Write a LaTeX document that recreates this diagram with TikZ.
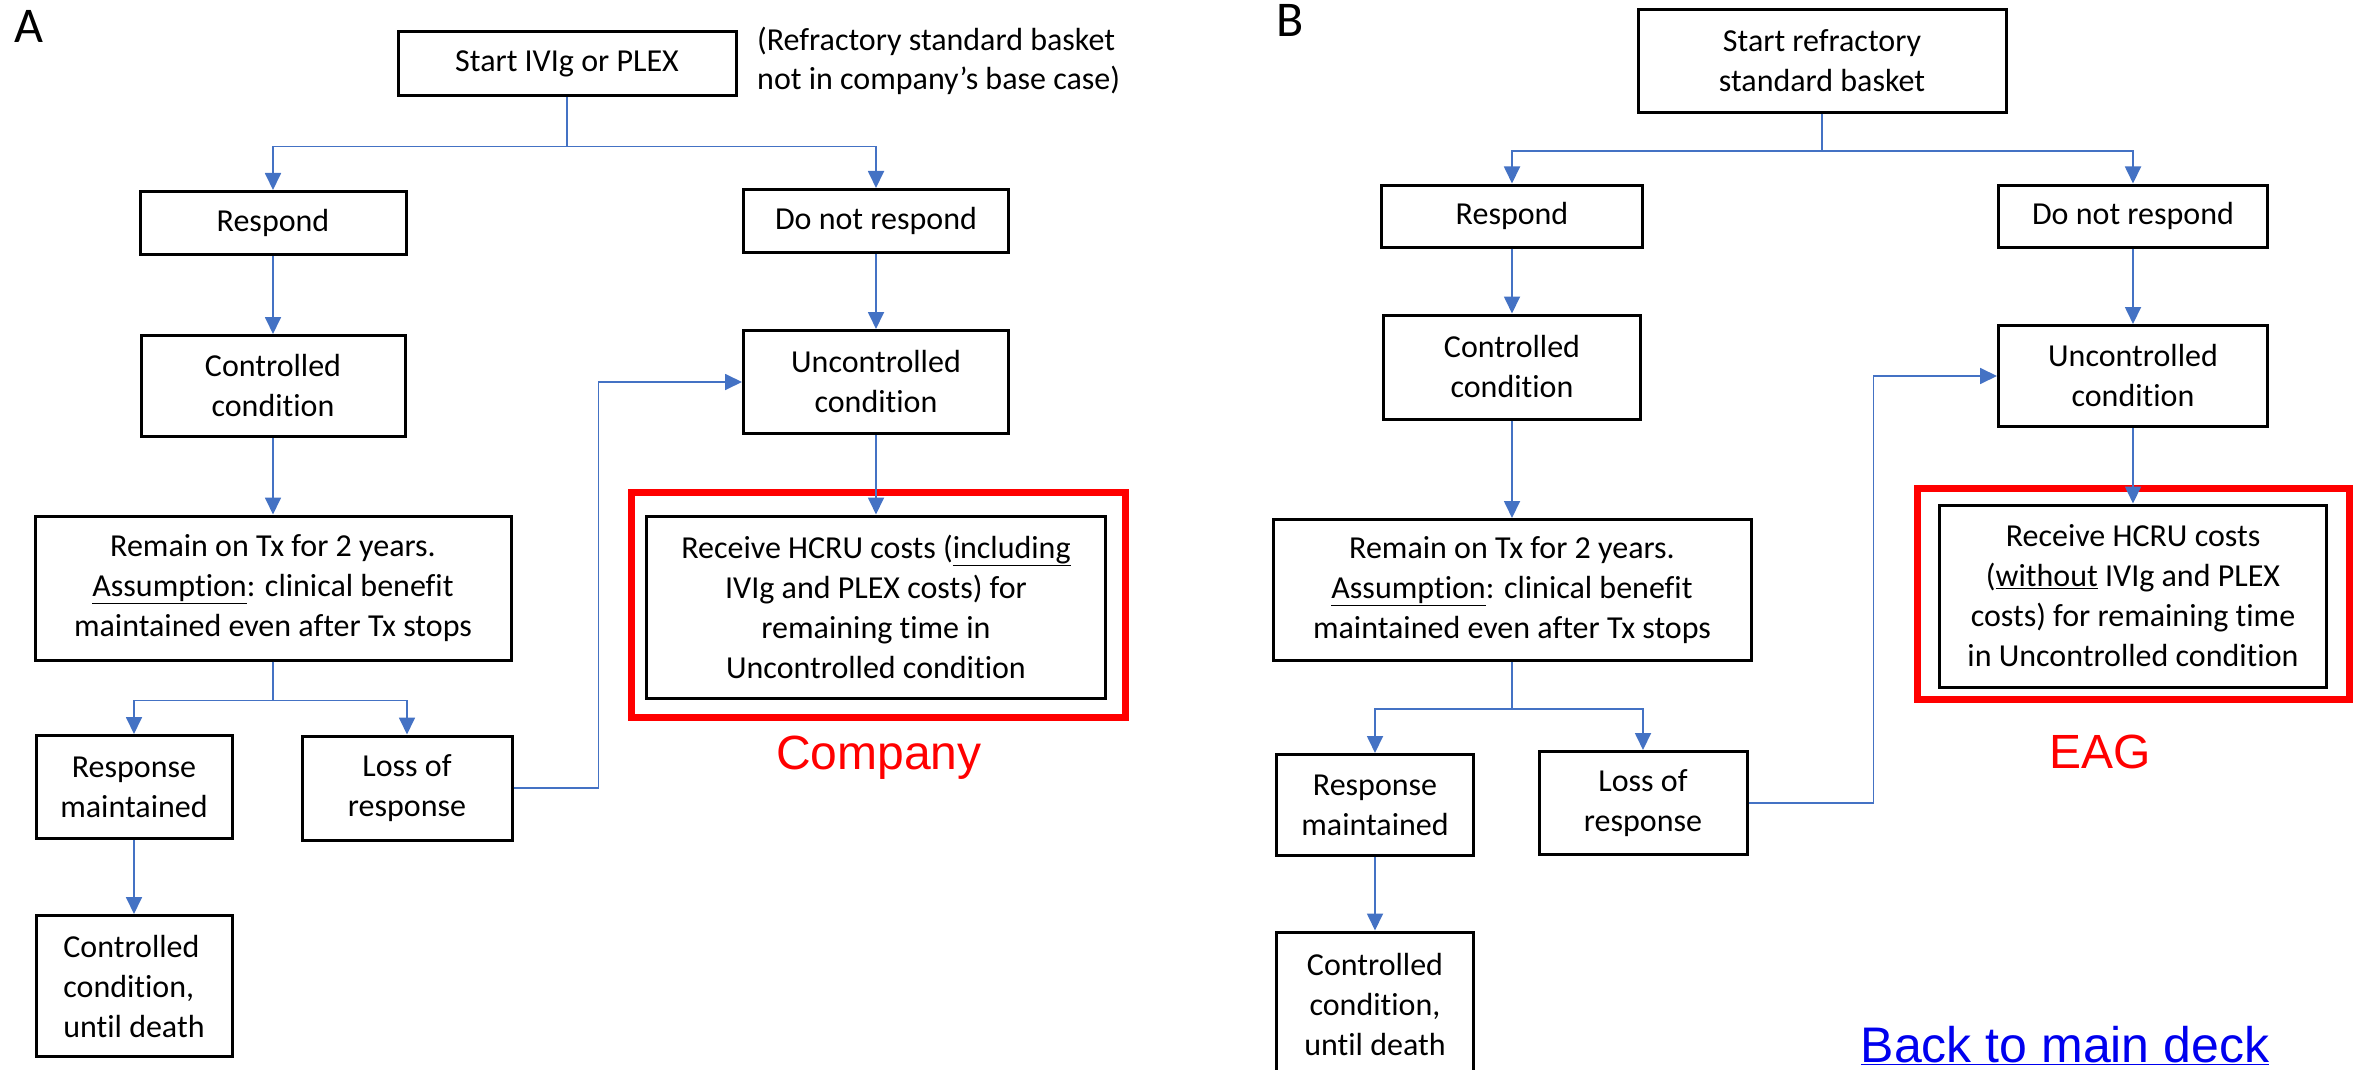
\documentclass[tikz,border=0pt]{standalone}
\usepackage{fontspec}
\setmainfont{Carlito}[Ligatures=NoCommon]
\newfontfamily\arialfont{Liberation Sans}
\usetikzlibrary{arrows.meta}
\definecolor{Flowblue}{RGB}{68,114,196}
\definecolor{Tagred}{RGB}{255,0,0}
\definecolor{Linkblue}{RGB}{0,0,238}

\begin{document}
\begin{tikzpicture}[
  x=1pt, y=-1pt,
  box/.style={
    draw=black, line width=3pt,
    align=center, inner sep=0pt,
    font=\fontsize{32}{40}\selectfont
  },
  note/.style={
    align=left, inner sep=0pt,
    font=\fontsize{32}{39}\selectfont
  },
  redframe/.style={
    draw=Tagred, line width=7pt, inner sep=0pt
  },
  flow/.style={
    -{Triangle[length=17pt, width=16pt]},
    line width=1.8pt, color=Flowblue
  },
  tag/.style={
    font=\arialfont\fontsize{48}{56}\selectfont,
    text=Tagred, inner sep=0pt
  },
  panel/.style={
    font=\fontsize{50}{60}\selectfont, inner sep=0pt
  }
]
\clip (0,0) rectangle (2359,1070);

%% ── Panel A: company ─────────────────────────────────────────────────────
\node[panel] (labA) at (29,26) {A};

\node[box, minimum width=338, minimum height=64] (startA) at (567,64)
  {Start IVIg or PLEX};
\node[note, anchor=west] (noteA) at (757,61)
  {(Refractory standard basket\\not in company’s base case)};

\node[box, minimum width=266, minimum height=63] (respA) at (273,223) {Respond};
\node[box, minimum width=265, minimum height=63] (noresA) at (876,221) {Do not respond};

\node[box, minimum width=264, minimum height=101] (ctrlA) at (273,386)
  {Controlled\\condition};
\node[box, minimum width=265, minimum height=103] (unctrlA) at (876,382)
  {Uncontrolled\\condition};

\node[box, minimum width=476, minimum height=144] (remainA) at (273,588)
  {Remain on Tx for 2 years.\\
   \underline{Assumption}: clinical benefit\\
   maintained even after Tx stops};

\node[redframe, minimum width=494, minimum height=225] (redA) at (878,605) {};
\node[box, minimum width=459, minimum height=182] (hcruA) at (876,607)
  {Receive HCRU costs (\underline{including}\\
   IVIg and PLEX costs) for\\
   remaining time in\\
   Uncontrolled condition};

\node[box, minimum width=196, minimum height=103] (rmA) at (134,787)
  {Response\\maintained};
\node[box, minimum width=210, minimum height=104] (lossA) at (407,788)
  {Loss of\\response};
\node[box, align=left, minimum width=196, minimum height=141] (deathA) at (134,986)
  {Controlled\\condition,\\until death};

\node[tag] (compA) at (879,758) {Company};

%% ── Conexiones A ─────────────────────────────────────────────────────────
\draw[flow] (startA.south) -- ++(0,49) -| (respA.north);
\draw[flow] (startA.south) -- ++(0,49) -| (noresA.north);
\draw[flow] (respA) -- (ctrlA);
\draw[flow] (ctrlA) -- (remainA);
\draw[flow] (noresA) -- (unctrlA);
\draw[flow] (unctrlA) -- (hcruA);
\draw[flow] (remainA.south) -- ++(0,39) -| (rmA.north);
\draw[flow] (remainA.south) -- ++(0,39) -| (lossA.north);
\draw[flow] (rmA) -- (deathA);
\draw[flow] (lossA.east) -- ++(85,0) |- (unctrlA.west);

%% ── Panel B: EAG ─────────────────────────────────────────────────────────
\node[panel] (labB) at (1290,20) {B};

\node[box, minimum width=368, minimum height=103] (startB) at (1822,61)
  {Start refractory\\standard basket};

\node[box, minimum width=261, minimum height=62] (respB) at (1512,216) {Respond};
\node[box, minimum width=269, minimum height=62] (noresB) at (2133,216) {Do not respond};

\node[box, minimum width=257, minimum height=104] (ctrlB) at (1512,367)
  {Controlled\\condition};
\node[box, minimum width=269, minimum height=101] (unctrlB) at (2133,376)
  {Uncontrolled\\condition};

\node[box, minimum width=478, minimum height=141] (remainB) at (1512,590)
  {Remain on Tx for 2 years.\\
   \underline{Assumption}: clinical benefit\\
   maintained even after Tx stops};

\node[redframe, minimum width=432, minimum height=211] (redB) at (2133,594) {};
\node[box, minimum width=387, minimum height=182] (hcruB) at (2133,596)
  {Receive HCRU costs\\
   (\underline{without} IVIg and PLEX\\
   costs) for remaining time\\
   in Uncontrolled condition};

\node[box, minimum width=197, minimum height=101] (rmB) at (1375,805)
  {Response\\maintained};
\node[box, minimum width=208, minimum height=103] (lossB) at (1643,803)
  {Loss of\\response};
\node[box, minimum width=197, minimum height=144] (deathB) at (1375,1004)
  {Controlled\\condition,\\until death};

\node[tag] (compB) at (2100,752) {EAG};
\node[anchor=base, inner sep=0pt, text=Linkblue,
      font=\arialfont\fontsize{50}{58}\selectfont] (backB) at (2065,1062)
  {\underline{Back to main deck}};

%% ── Conexiones B ─────────────────────────────────────────────────────────
\draw[flow] (startB.south) -- ++(0,37) -| (respB.north);
\draw[flow] (startB.south) -- ++(0,37) -| (noresB.north);
\draw[flow] (respB) -- (ctrlB);
\draw[flow] (ctrlB) -- (remainB);
\draw[flow] (noresB) -- (unctrlB);
\draw[flow] (unctrlB) -- (hcruB);
\draw[flow] (remainB.south) -- ++(0,47) -| (rmB.north);
\draw[flow] (remainB.south) -- ++(0,47) -| (lossB.north);
\draw[flow] (rmB) -- (deathB);
\draw[flow] (lossB.east) -- ++(125,0) |- (unctrlB.west);

\end{tikzpicture}
\end{document}
